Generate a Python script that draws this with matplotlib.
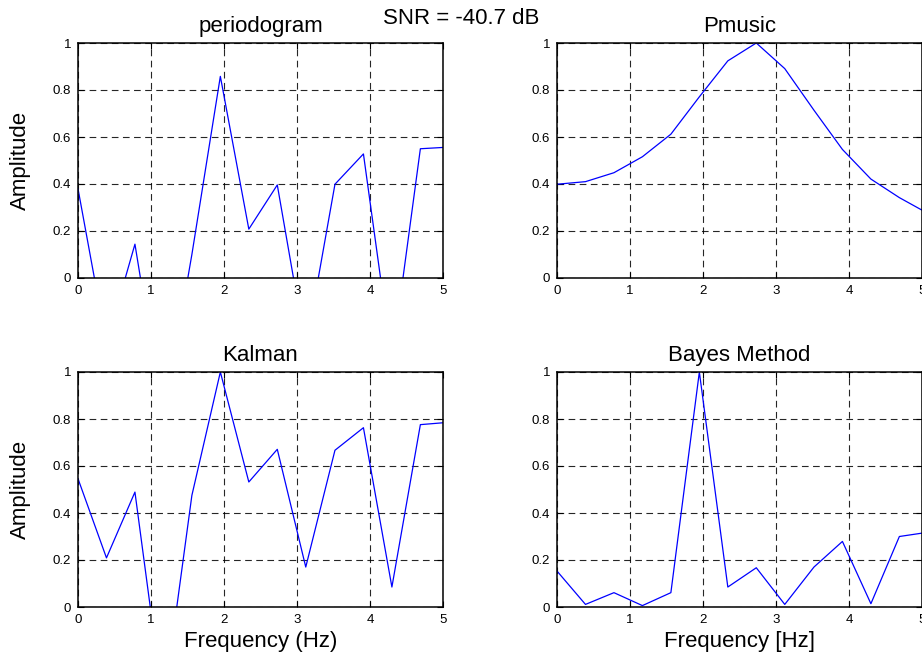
import numpy as np
import matplotlib
matplotlib.use("Agg")
import matplotlib.pyplot as plt

plt.rcParams['font.family'] = ['Liberation Sans', 'DejaVu Sans']

# frequency bins (Hz)
freq = [0.0, 0.39, 0.78, 1.17, 1.56, 1.95, 2.34, 2.73, 3.12, 3.52, 3.91, 4.30, 4.69, 5.08]

# spectra (values below 0 are clipped by the axes)
periodogram = [0.38, -0.28, 0.144, -0.6, 0.10, 0.858, 0.208, 0.396, -0.30, 0.399, 0.528, -0.35, 0.55, 0.557]
pmusic = [0.399, 0.41, 0.448, 0.516, 0.612, 0.771, 0.924, 1.0, 0.891, 0.714, 0.547, 0.421, 0.342, 0.275]
kalman = [0.546, 0.209, 0.489, -0.42, 0.475, 1.0, 0.532, 0.671, 0.17, 0.667, 0.763, 0.085, 0.776, 0.786]
bayes = [0.153, 0.011, 0.061, 0.006, 0.061, 1.0, 0.085, 0.167, 0.011, 0.17, 0.279, 0.014, 0.30, 0.318]

titles = ['periodogram', 'Pmusic', 'Kalman', 'Bayes Method']
xlabels = [None, None, 'Frequency (Hz)', 'Frequency [Hz]']
ylabels = ['Amplitude', None, 'Amplitude', None]
series = [periodogram, pmusic, kalman, bayes]

xticks = [0, 1, 2, 3, 4, 5]
yticks = [0, 0.2, 0.4, 0.6, 0.8, 1]
ytick_labels = ['0', '0.2', '0.4', '0.6', '0.8', '1']

W, H = 922, 660
fig = plt.figure(figsize=(W / 100, H / 100), dpi=100)

# axes boxes in pixels: left, top, right, bottom
boxes = [(78, 43, 443, 278), (557, 43, 922, 278),
         (78, 372, 443, 607), (557, 372, 922, 607)]

for box, y, title, xl, yl in zip(boxes, series, titles, xlabels, ylabels):
    l, t, r, b = box
    ax = fig.add_axes([l / W, 1 - b / H, (r - l) / W, (b - t) / H])
    ax.plot(freq, y, color='blue', lw=0.9)
    ax.set_xlim(0, 5)
    ax.set_ylim(0, 1)
    ax.set_xticks(xticks)
    ax.set_yticks(yticks)
    ax.set_yticklabels(ytick_labels)
    ax.grid(True, color='black', linestyle=(0, (6, 4)), lw=0.8, alpha=0.85)
    ax.tick_params(direction='in', length=4, width=0.8, top=True, right=True,
                   labelsize=9.5, pad=5)
    for sp in ax.spines.values():
        sp.set_linewidth(1.1)
    ax.set_title(title, fontsize=16, pad=8)
    if xl:
        ax.set_xlabel(xl, fontsize=16, labelpad=4)
    if yl:
        ax.set_ylabel(yl, fontsize=16, labelpad=16)

fig.text(0.5, 1 - 18 / H, 'SNR = -40.7 dB', ha='center', va='center', fontsize=16)

fig.savefig('out.png', dpi=100)
